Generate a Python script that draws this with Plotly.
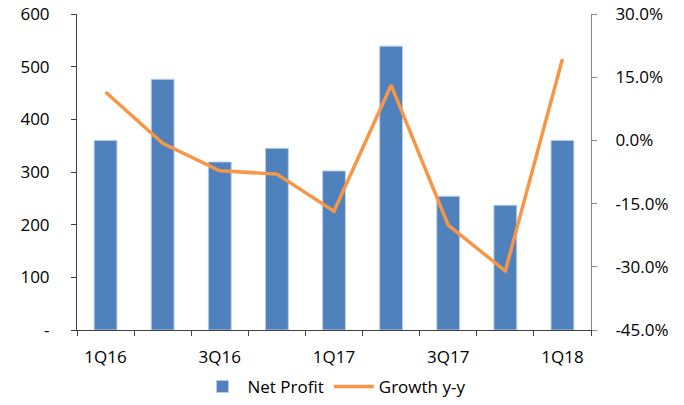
import plotly.graph_objects as go

# data
quarters = ['1Q16', '2Q16', '3Q16', '4Q16', '1Q17', '2Q17', '3Q17', '4Q17', '1Q18']
tick_labels = ['1Q16', '', '3Q16', '', '1Q17', '', '3Q17', '', '1Q18']
net_profit = [360, 476, 319, 345, 302, 539, 254, 237, 360]
growth_yy = [11.5, -0.7, -7.2, -8.0, -16.8, 13.1, -20.1, -31.0, 19.3]

left_ticks = [0, 100, 200, 300, 400, 500, 600]
left_text = ['-', '100', '200', '300', '400', '500', '600']
right_ticks = [-45, -30, -15, 0, 15, 30]
right_text = ['-45.0%', '-30.0%', '-15.0%', '0.0%', '15.0%', '30.0%']

fig = go.Figure()

fig.add_trace(go.Bar(
    x=quarters, y=net_profit, name='Net Profit',
    marker=dict(color='#4F81BD', line=dict(color='#B9CDE5', width=1)),
))

fig.add_trace(go.Scatter(
    x=quarters, y=growth_yy, name='Growth y-y', yaxis='y2',
    mode='lines', line=dict(color='#F79646', width=3.5),
))

axis_font = dict(family='Open Sans, Noto Sans, sans-serif', size=17, color='#000000')

fig.update_layout(
    width=684, height=405,
    margin=dict(l=77, r=93, t=14, b=75, autoexpand=False),
    plot_bgcolor='white', paper_bgcolor='white',
    bargap=0.6,
    showlegend=True,
    legend=dict(orientation='h', x=0.5, xanchor='center', y=-0.18, yanchor='middle',
                font=axis_font, traceorder='normal', itemwidth=40),
    xaxis=dict(
        type='category', tickmode='array', tickvals=quarters, ticktext=tick_labels,
        tickson='boundaries', ticks='outside', ticklen=5, tickcolor='#404040',
        showline=True, linecolor='#404040', linewidth=1, automargin=False,
        ticklabelstandoff=12, showgrid=False, tickfont=axis_font,
    ),
    yaxis=dict(
        range=[0, 600], tickmode='array', tickvals=left_ticks, ticktext=left_text,
        ticks='outside', ticklen=5, tickcolor='#404040',
        showline=True, linecolor='#404040', linewidth=1, automargin=False,
        ticklabelstandoff=18, showgrid=False, zeroline=False, tickfont=axis_font,
    ),
    yaxis2=dict(
        range=[-45, 30], overlaying='y', side='right',
        tickmode='array', tickvals=right_ticks, ticktext=right_text,
        ticks='outside', ticklen=5, tickcolor='#868686',
        showline=True, linecolor='#868686', linewidth=1, automargin=False,
        ticklabelstandoff=15, showgrid=False, zeroline=False, tickfont=axis_font,
    ),
)

# drop the default page margin so the figure sits at the window corner
fig.write_html("out.html", config={'displayModeBar': False},
               post_script="document.body.style.margin='0';")
